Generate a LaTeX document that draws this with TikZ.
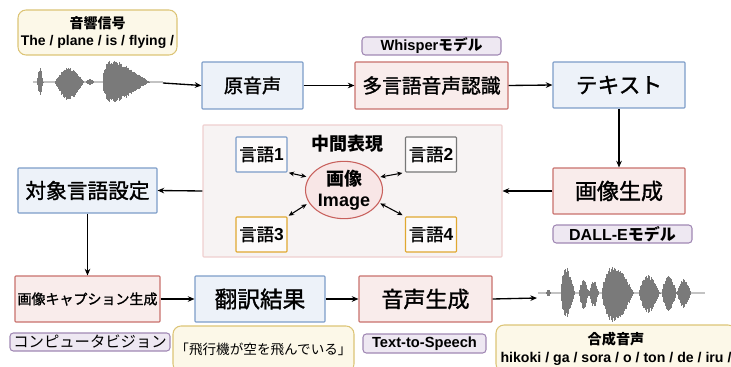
\documentclass[tikz,border=0pt]{standalone}
\usepackage{fontspec}
\setmainfont{Noto Sans CJK JP}
\newfontfamily\jpm{Noto Sans CJK JP}[FakeBold=1.4]
\newfontfamily\lat{Liberation Sans}
\usetikzlibrary{arrows.meta,shapes.geometric}
\definecolor{bluebd}{HTML}{7C9CC8}
\definecolor{bluefl}{HTML}{EDF2F9}
\definecolor{redbd}{HTML}{C8706C}
\definecolor{redfl}{HTML}{F9ECEB}
\definecolor{purpbd}{HTML}{A088B4}
\definecolor{purpfl}{HTML}{EEE8F2}
\definecolor{yelbd}{HTML}{DCC476}
\definecolor{yelfl}{HTML}{FCF8E8}
\definecolor{orgbd}{HTML}{E0A830}
\definecolor{graybd}{HTML}{777777}
\definecolor{midbd}{HTML}{EFCFCF}
\definecolor{midfl}{HTML}{F7F3F3}
\definecolor{ellbd}{HTML}{C8605C}
\definecolor{ellfl}{HTML}{F8E6E6}
\definecolor{wavecol}{HTML}{7A7A7A}
\tikzset{
  basebox/.style={draw, line width=0.8pt, inner sep=0pt, align=center, rounded corners=0.6pt},
  bluebox/.style={basebox, draw=bluebd, fill=bluefl},
  redbox/.style={basebox, draw=redbd, fill=redfl},
  purplbl/.style={basebox, draw=purpbd, fill=purpfl, rounded corners=2.5pt, font=\fontsize{11}{12}\selectfont\bfseries},
  yellbl/.style={basebox, draw=yelbd, fill=yelfl, rounded corners=6pt},
  langbox/.style={basebox, fill=white!60!midfl, minimum width=38.25pt, minimum height=26.25pt, font=\fontsize{13}{15}\selectfont\jpm},
  fs/.style={font=\fontsize{#1}{#1}\selectfont\jpm},
  flow/.style={-{Stealth[length=5pt,width=4.2pt]}, line width=1pt},
  dbl/.style={{Stealth[length=4pt,width=3.5pt]}-{Stealth[length=4pt,width=3.5pt]}, line width=0.8pt, shorten <=1pt, shorten >=2pt},
}
\newcommand\wavblob[6]{%
  \pgfmathsetmacro\wnn{int((#2-#1)/0.6)}%
  \foreach \wi in {0,...,\wnn}{%
    \pgfmathsetmacro\wxx{#1+\wi*0.6}%
    \pgfmathsetmacro\wt{\wi/\wnn}%
    \pgfmathsetmacro\wenv{abs(sin(180*(\wt+0.001)^#6))}%
    \pgfmathsetmacro\wrr{0.78+0.22*rnd}%
    \draw[wavecol,line width=0.7pt] (\wxx,{#3-#4*\wenv*\wrr}) -- (\wxx,{#3+#5*\wenv*\wrr});
  }}
\begin{document}
\begin{tikzpicture}[x=0.75pt,y=-0.75pt]
\useasboundingbox (0,0) rectangle (731,367);
\pgfmathsetseed{7}
% waveforms
\draw[wavecol!45,line width=0.8pt] (33,82) -- (163,82);
\wavblob{37}{43}{82}{14}{13}{1}
\wavblob{55}{84}{82}{14}{18}{0.9}
\wavblob{86}{94}{82}{3}{3}{1}
\wavblob{103}{150}{82}{22}{21}{0.45}
\draw[wavecol!45,line width=0.8pt] (538,293) -- (705,293);
\wavblob{546}{551}{293}{4}{4}{1}
\wavblob{561}{575}{293}{26}{25}{0.7}
\wavblob{579}{589}{293}{14}{17}{1}
\wavblob{589}{599}{293}{12}{14}{1}
\wavblob{602}{634}{293}{27}{30}{0.7}
\wavblob{639}{660}{293}{18}{20}{0.8}
\wavblob{662}{677}{293}{17}{18}{0.8}
\wavblob{677}{691}{293}{14}{15}{1}
\coordinate (w1) at (163,83);
\coordinate (w2) at (537,298);

% top row
\node[yellbl, minimum width=119.25pt, minimum height=33.75pt, font=\fontsize{10.5}{13}\selectfont\bfseries] (sig) at (97.5,32.5) {音響信号\\{\lat The / plane / is / flying /}};
\node[bluebox, fs=14.3, minimum width=75.75pt, minimum height=35.25pt] (orig) at (252.5,85.5) {原音声};
\node[redbox, fs=14.8, minimum width=114.75pt, minimum height=35.25pt] (asr) at (431.5,85.5) {多言語音声認識};
\node[purplbl, minimum width=104.25pt, minimum height=13.5pt] (whisper) at (431.5,46) {{\lat Whisper}モデル};
\node[bluebox, fs=16.3, minimum width=99pt, minimum height=34.5pt] (text) at (619,85) {テキスト};

% middle row
\node[redbox, fs=16.5, minimum width=99pt, minimum height=34.5pt] (gen) at (619,191) {画像生成};
\node[purplbl, font=\fontsize{12}{13}\selectfont\bfseries, minimum width=104.25pt, minimum height=13.5pt] (dalle) at (622.5,234) {{\lat DALL-E}モデル};
\node[basebox, draw=midbd, fill=midfl, minimum width=224.25pt, minimum height=99pt] (mid) at (352.5,191) {};
\node[font=\fontsize{13.5}{15}\selectfont\bfseries, inner sep=0pt] (midlbl) at (347,144) {中間表現};
\node[langbox, draw=bluebd] (g1) at (261.5,154.5) {言語{\lat\bfseries 1}};
\node[langbox, draw=graybd] (g2) at (431,154.5) {言語{\lat\bfseries 2}};
\node[langbox, draw=orgbd] (g3) at (261.5,234.5) {言語{\lat\bfseries 3}};
\node[langbox, draw=orgbd] (g4) at (431,234.5) {言語{\lat\bfseries 4}};
\node[ellipse, draw=ellbd, fill=ellfl, line width=0.8pt, minimum width=57.75pt, minimum height=42pt, inner sep=0pt, align=center, font=\fontsize{13.5}{16}\selectfont\bfseries] (img) at (344,190) {画像\\{\lat Image}};
\node[bluebox, fs=15.5, minimum width=104.25pt, minimum height=33.75pt] (target) at (87.5,190.5) {対象言語設定};

% bottom row
\node[redbox, fs=10.5, minimum width=108.75pt, minimum height=34.5pt] (cap) at (87.5,299) {画像キャプション生成};
\node[bluebox, fs=17, minimum width=97.5pt, minimum height=34.5pt] (trans) at (260,299) {翻訳結果};
\node[redbox, fs=16.5, minimum width=99.75pt, minimum height=34.5pt] (tts) at (425.5,299) {音声生成};
\node[purplbl, font=\fontsize{11.5}{12}\selectfont, minimum width=120pt, minimum height=13.5pt] (cv) at (90,342) {コンピュータビジョン};
\node[yellbl, font=\fontsize{10.2}{12}\selectfont, minimum width=135.75pt, minimum height=34.5pt] (sent) at (263.5,349) {「飛行機が空を飛んでいる」};
\node[purplbl, font=\fontsize{11}{12}\selectfont\bfseries, minimum width=92.25pt, minimum height=14.25pt] (ttslbl) at (424.5,343.5) {{\lat Text-to-Speech}};
\node[yellbl, font=\fontsize{10.6}{13.5}\selectfont\bfseries, minimum width=180pt, minimum height=35.25pt] (synth) at (616,348.5) {合成音声\\{\lat hikoki / ga / sora / o / ton / de / iru /}};

% connectors
\draw[flow] (w1) -- (orig.west);
\draw[flow] (orig.east) -- (asr.west);
\draw[flow] (asr.east) -- (text.west);
\draw[flow] (text.south) -- (gen.north);
\draw[flow] (gen.west) -- (mid.east);
\draw[flow] (mid.west) -- (target.east);
\draw[flow] (target.south) -- (cap.north);
\draw[flow] (cap.east) -- (trans.west);
\draw[flow] (trans.east) -- (tts.west);
\draw[flow] (tts.east) -- (w2);
\draw[dbl] (g1.south east) -- (img.160);
\draw[dbl] (img.20) -- (g2.south west);
\draw[dbl] (g3.north east) -- (img.200);
\draw[dbl] (img.340) -- (g4.north west);
\end{tikzpicture}
\end{document}
